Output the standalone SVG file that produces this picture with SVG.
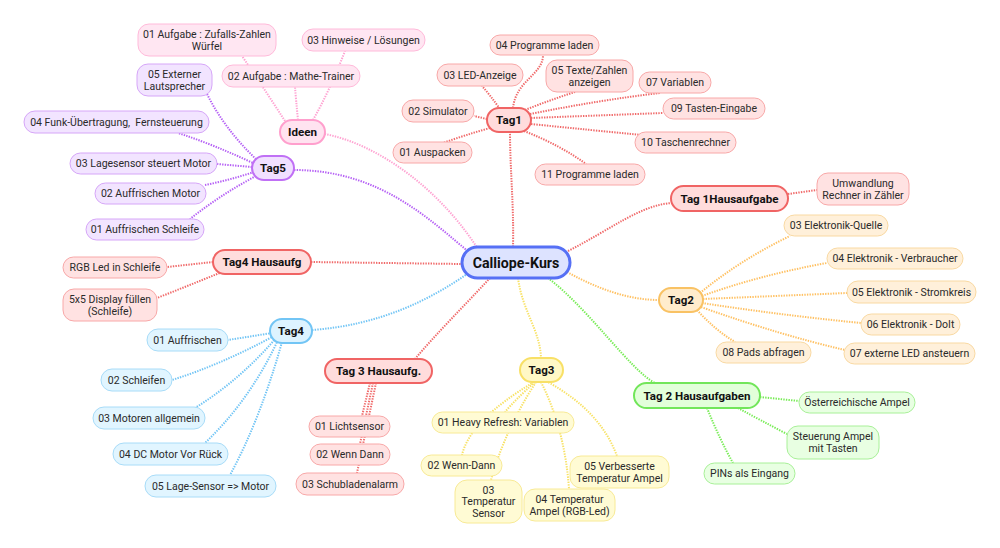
<svg xmlns="http://www.w3.org/2000/svg" width="1000" height="548" viewBox="0 0 1000 548">
<style>
text{font-family:Roboto,"Liberation Sans",sans-serif;text-anchor:middle;dominant-baseline:central}
.lt{font-size:10.5px;fill:#2a2a2a}
.bt{font-size:11.6px;font-weight:700;fill:#111}
.ct{font-size:14.2px;font-weight:700;fill:#111}
.c path{fill:none;stroke-width:2;stroke-dasharray:1.4 1.2}
.red path{stroke:#f06a6a}.pink path{stroke:#ffa3d2}.pur path{stroke:#b662f5}.blu path{stroke:#72c5f5}
.yel path{stroke:#f8e266}.grn path{stroke:#78ec56}.org path{stroke:#ffc163}
.n rect{stroke-width:1}
.m rect{stroke-width:2}
.kr rect{fill:#ffe2e2;stroke:#f8a8a8}.mr rect{fill:#ffdcdc;stroke:#f06464}
.kp rect{fill:#ffe6f2;stroke:#ffbada}.mp rect{fill:#ffe3f0;stroke:#ff9fcd}
.ku rect{fill:#f2e4ff;stroke:#d6a6f8}.mu rect{fill:#f1e0ff;stroke:#c070f5}
.kb rect{fill:#e1f5ff;stroke:#a8dcf8}.mb rect{fill:#ddf3ff;stroke:#72c5f5}
.ky rect{fill:#fffbd4;stroke:#f8ea96}.my rect{fill:#fff8c6;stroke:#f8e066}
.kg rect{fill:#e8ffe2;stroke:#a8f098}.mg rect{fill:#e2ffda;stroke:#72e65a}
.ko rect{fill:#fff0da;stroke:#f9d9a2}.mo rect{fill:#ffeccc;stroke:#f9c264}
</style>
<g id="connectors" class="c">
<g class="red">
<path d="M513,247 C514,205 510,170 510,132"/>
<path d="M311,262 L462,264"/>
<path d="M490,278 C465,305 435,335 415,359"/>
<path d="M568,251 C610,230 640,205 672,203"/>
<path d="M487,119 L474,116"/>
<path d="M490,128 Q465,135 443,143"/>
<path d="M500,109 Q490,95 482,86"/>
<path d="M513,108 C516,80 543,75 543,55"/>
<path d="M525,110 Q550,100 575,92"/>
<path d="M530,114 Q600,100 660,93"/>
<path d="M531,118 L663,113"/>
<path d="M531,124 Q590,130 642,135"/>
<path d="M524,131 Q560,145 586,164"/>
<path d="M788,194 L817,190"/>
<path d="M370,383 L362,416"/>
<path d="M373,383 L360,444"/>
<path d="M376,383 L357,473"/>
<path d="M213,262 L167,267"/>
<path d="M222,272 Q190,285 157,298"/>
</g>
<g class="pink">
<path d="M478,249 C440,190 380,145 325,134"/>
<path d="M285,121 Q265,90 242,56"/>
<path d="M298,120 Q296,100 295,87"/>
<path d="M313,120 Q330,90 345,51"/>
</g>
<g class="pur">
<path d="M294,170 C380,170 430,220 470,253"/>
<path d="M258,161 Q225,130 207,94"/>
<path d="M255,164 Q215,145 178,133"/>
<path d="M252,167 L217,164"/>
<path d="M254,172 Q230,180 205,185"/>
<path d="M256,176 Q220,195 190,219"/>
</g>
<g class="blu">
<path d="M312,330 C380,325 430,300 470,272"/>
<path d="M272,333 L228,340"/>
<path d="M274,336 Q220,365 172,380"/>
<path d="M276,338 Q240,380 195,408"/>
<path d="M278,340 Q250,400 205,443"/>
<path d="M282,342 Q260,420 230,475"/>
</g>
<g class="yel">
<path d="M518,278 C522,310 540,330 541,358"/>
<path d="M535,382 Q515,400 505,412"/>
<path d="M534,382 Q470,420 462,455"/>
<path d="M536,382 Q505,430 491,480"/>
<path d="M541,382 Q565,430 569,489"/>
<path d="M546,381 Q600,410 617,456"/>
</g>
<g class="grn">
<path d="M548,278 C590,310 630,370 655,383"/>
<path d="M760,397 L799,401"/>
<path d="M738,408 Q760,420 787,434"/>
<path d="M707,408 Q720,440 733,463"/>
</g>
<g class="org">
<path d="M567,272 C600,290 630,300 659,300"/>
<path d="M700,293 Q740,260 790,236"/>
<path d="M702,296 Q760,275 827,263"/>
<path d="M703,299 L847,293"/>
<path d="M702,303 Q780,315 861,323"/>
<path d="M701,307 Q780,335 845,350"/>
<path d="M697,310 Q715,330 735,342"/>
</g>
</g>

<g id="center"><rect x="462" y="247" width="108" height="31" rx="15.5" fill="#dde3ff" stroke="#5670f5" stroke-width="3"/><text class="ct" x="516" y="262.5">Calliope-Kurs</text></g>

<g id="tag1" class="m mr"><rect x="487" y="108" width="44" height="24" rx="12"/><text class="bt" x="509" y="120">Tag1</text></g>
<g id="ideen" class="m mp"><rect x="280" y="120" width="45" height="24" rx="12"/><text class="bt" x="302.5" y="132">Ideen</text></g>
<g id="tag5" class="m mu"><rect x="252" y="156" width="42" height="24" rx="12"/><text class="bt" x="273" y="168">Tag5</text></g>
<g id="tag4h" class="m mr"><rect x="213" y="250" width="98" height="24" rx="12"/><text class="bt" x="262" y="262">Tag4 Hausaufg</text></g>
<g id="tag4" class="m mb"><rect x="270" y="319" width="42" height="24" rx="12"/><text class="bt" x="291" y="331">Tag4</text></g>
<g id="tag3h" class="m mr"><rect x="325" y="359" width="107" height="24" rx="12"/><text class="bt" x="378.5" y="371">Tag 3 Hausaufg.</text></g>
<g id="tag3" class="m my"><rect x="520" y="358" width="43" height="24" rx="12"/><text class="bt" x="541.5" y="370">Tag3</text></g>
<g id="tag2h" class="m mg"><rect x="634" y="383" width="126" height="25" rx="12.5"/><text class="bt" x="697" y="395.5">Tag 2 Hausaufgaben</text></g>
<g id="tag2" class="m mo"><rect x="659" y="288" width="44" height="24" rx="12"/><text class="bt" x="681" y="300">Tag2</text></g>
<g id="tag1h" class="m mr"><rect x="671" y="186" width="117" height="25" rx="12.5"/><text class="bt" x="729.5" y="198.5">Tag 1Hausaufgabe</text></g>

<g id="i01" class="n kp"><rect x="138" y="24" width="138" height="32" rx="11"/><text class="lt" x="207" y="34">01 Aufgabe : Zufalls-Zahlen</text><text class="lt" x="207" y="46">Würfel</text></g>
<g id="i03" class="n kp"><rect x="302" y="29" width="123" height="22" rx="11"/><text class="lt" x="363.5" y="40">03 Hinweise / Lösungen</text></g>
<g id="i02" class="n kp"><rect x="222" y="65" width="138" height="22" rx="11"/><text class="lt" x="291" y="76">02 Aufgabe : Mathe-Trainer</text></g>

<g id="t5a" class="n ku"><rect x="137" y="64" width="75" height="32" rx="11"/><text class="lt" x="174.5" y="74">05 Externer</text><text class="lt" x="174.5" y="86">Lautsprecher</text></g>
<g id="t5b" class="n ku"><rect x="24" y="111" width="185" height="22" rx="11"/><text class="lt" x="116.5" y="122" xml:space="preserve">04 Funk-Übertragung,  Fernsteuerung</text></g>
<g id="t5c" class="n ku"><rect x="70" y="153" width="147" height="21" rx="10.5"/><text class="lt" x="143.5" y="163.5">03 Lagesensor steuert Motor</text></g>
<g id="t5d" class="n ku"><rect x="95" y="183" width="111" height="21" rx="10.5"/><text class="lt" x="150.5" y="193.5">02 Auffrischen Motor</text></g>
<g id="t5e" class="n ku"><rect x="86" y="219" width="118" height="21" rx="10.5"/><text class="lt" x="145" y="229.5">01 Auffrischen Schleife</text></g>

<g id="t1a" class="n kr"><rect x="490" y="35" width="109" height="20" rx="10"/><text class="lt" x="544.5" y="45">04 Programme laden</text></g>
<g id="t1b" class="n kr"><rect x="437" y="64" width="86" height="22" rx="11"/><text class="lt" x="480" y="75">03 LED-Anzeige</text></g>
<g id="t1c" class="n kr"><rect x="546" y="60" width="87" height="32" rx="11"/><text class="lt" x="589.5" y="70">05 Texte/Zahlen</text><text class="lt" x="589.5" y="82">anzeigen</text></g>
<g id="t1d" class="n kr"><rect x="639" y="72" width="72" height="21" rx="10.5"/><text class="lt" x="675" y="82.5">07 Variablen</text></g>
<g id="t1e" class="n kr"><rect x="402" y="100" width="72" height="22" rx="11"/><text class="lt" x="438" y="111">02 Simulator</text></g>
<g id="t1f" class="n kr"><rect x="663" y="98" width="102" height="21" rx="10.5"/><text class="lt" x="714" y="108.5">09 Tasten-Eingabe</text></g>
<g id="t1g" class="n kr"><rect x="635" y="132" width="101" height="21" rx="10.5"/><text class="lt" x="685.5" y="142.5">10 Taschenrechner</text></g>
<g id="t1h" class="n kr"><rect x="393" y="142" width="79" height="21" rx="10.5"/><text class="lt" x="432.5" y="152.5">01 Auspacken</text></g>
<g id="t1i" class="n kr"><rect x="535" y="164" width="110" height="21" rx="10.5"/><text class="lt" x="590" y="174.5">11 Programme laden</text></g>
<g id="t1hh" class="n kr"><rect x="817" y="173" width="92" height="32" rx="11"/><text class="lt" x="863" y="183">Umwandlung</text><text class="lt" x="863" y="195">Rechner in Zähler</text></g>

<g id="t2a" class="n ko"><rect x="784" y="215" width="104" height="21" rx="10.5"/><text class="lt" x="836" y="225.5">03 Elektronik-Quelle</text></g>
<g id="t2b" class="n ko"><rect x="827" y="248" width="136" height="21" rx="10.5"/><text class="lt" x="895" y="258.5">04 Elektronik - Verbraucher</text></g>
<g id="t2c" class="n ko"><rect x="847" y="281" width="129" height="22" rx="11"/><text class="lt" x="911.5" y="292">05 Elektronik - Stromkreis</text></g>
<g id="t2d" class="n ko"><rect x="861" y="314" width="99" height="21" rx="10.5"/><text class="lt" x="910.5" y="324.5">06 Elektronik - DoIt</text></g>
<g id="t2e" class="n ko"><rect x="844" y="343" width="131" height="21" rx="10.5"/><text class="lt" x="909.5" y="353.5">07 externe LED ansteuern</text></g>
<g id="t2f" class="n ko"><rect x="716" y="342" width="95" height="21" rx="10.5"/><text class="lt" x="763.5" y="352.5">08 Pads abfragen</text></g>

<g id="t2ha" class="n kg"><rect x="799" y="392" width="116" height="21" rx="10.5"/><text class="lt" x="857" y="402.5">Österreichische Ampel</text></g>
<g id="t2hb" class="n kg"><rect x="787" y="426" width="92" height="33" rx="11"/><text class="lt" x="833" y="436.5">Steuerung Ampel</text><text class="lt" x="833" y="448.5">mit Tasten</text></g>
<g id="t2hc" class="n kg"><rect x="704" y="463" width="91" height="21" rx="10.5"/><text class="lt" x="749.5" y="473.5">PINs als Eingang</text></g>

<g id="t4ha" class="n kr"><rect x="63" y="257" width="104" height="21" rx="10.5"/><text class="lt" x="115" y="267.5">RGB Led in Schleife</text></g>
<g id="t4hb" class="n kr"><rect x="63" y="289" width="94" height="32" rx="11"/><text class="lt" x="110" y="299">5x5 Display füllen</text><text class="lt" x="110" y="311">(Schleife)</text></g>

<g id="t4a" class="n kb"><rect x="147" y="329" width="81" height="22" rx="11"/><text class="lt" x="187.5" y="340">01 Auffrischen</text></g>
<g id="t4b" class="n kb"><rect x="101" y="369" width="71" height="22" rx="11"/><text class="lt" x="136.5" y="380">02 Schleifen</text></g>
<g id="t4c" class="n kb"><rect x="93" y="407" width="112" height="22" rx="11"/><text class="lt" x="149" y="418">03 Motoren allgemein</text></g>
<g id="t4d" class="n kb"><rect x="113" y="443" width="115" height="22" rx="11"/><text class="lt" x="170.5" y="454">04 DC Motor Vor Rück</text></g>
<g id="t4e" class="n kb"><rect x="145" y="475" width="131" height="22" rx="11"/><text class="lt" x="210.5" y="486">05 Lage-Sensor =&gt; Motor</text></g>

<g id="t3ha" class="n kr"><rect x="309" y="416" width="81" height="21" rx="10.5"/><text class="lt" x="349.5" y="426.5">01 Lichtsensor</text></g>
<g id="t3hb" class="n kr"><rect x="310" y="444" width="80" height="21" rx="10.5"/><text class="lt" x="350" y="454.5">02 Wenn Dann</text></g>
<g id="t3hc" class="n kr"><rect x="296" y="473" width="108" height="22" rx="11"/><text class="lt" x="350" y="484">03 Schubladenalarm</text></g>

<g id="t3a" class="n ky"><rect x="432" y="412" width="142" height="21" rx="10.5"/><text class="lt" x="503" y="422.5">01 Heavy Refresh: Variablen</text></g>
<g id="t3b" class="n ky"><rect x="421" y="455" width="81" height="21" rx="10.5"/><text class="lt" x="461.5" y="465.5">02 Wenn-Dann</text></g>
<g id="t3c" class="n ky"><rect x="455" y="480" width="67" height="43" rx="12"/><text class="lt" x="488.5" y="490">03</text><text class="lt" x="488.5" y="501.5">Temperatur</text><text class="lt" x="488.5" y="513">Sensor</text></g>
<g id="t3d" class="n ky"><rect x="524" y="489" width="91" height="32" rx="11"/><text class="lt" x="569.5" y="499">04 Temperatur</text><text class="lt" x="569.5" y="511">Ampel (RGB-Led)</text></g>
<g id="t3e" class="n ky"><rect x="570" y="456" width="99" height="32" rx="11"/><text class="lt" x="619.5" y="466">05 Verbesserte</text><text class="lt" x="619.5" y="478">Temperatur Ampel</text></g>
</svg>
